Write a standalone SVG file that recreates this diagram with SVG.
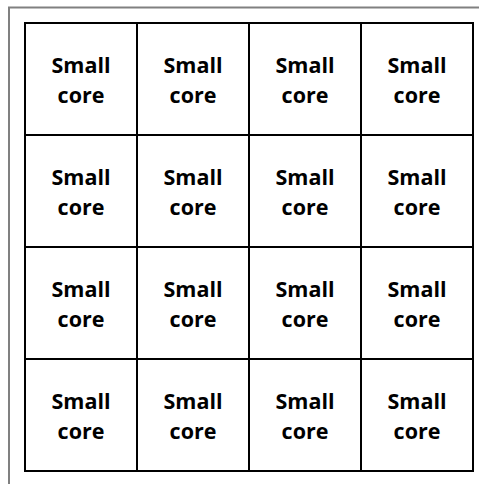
<svg xmlns="http://www.w3.org/2000/svg" width="479" height="484" viewBox="0 0 479 484">
<style>
.frame{fill:none;stroke:#808080;stroke-width:2}
.cell{fill:#fff;stroke:#000;stroke-width:2}
.t{font-family:"Open Sans","Liberation Sans",sans-serif;font-weight:bold;font-size:21.5px;fill:#000;text-anchor:middle}
</style>
<rect width="479" height="484" fill="#fff"/>
<path class="frame" d="M9,484 V7.5 H479"/>
<defs>
<g id="core">
<rect class="cell" x="0" y="0" width="112" height="112"/>
<text class="t" x="56" y="50">Small</text>
<text class="t" x="56" y="80">core</text>
</g>
</defs>
<g id="connectors"/>
<g id="c11" transform="translate(25,23)"><use href="#core"/></g>
<g id="c12" transform="translate(137,23)"><use href="#core"/></g>
<g id="c13" transform="translate(249,23)"><use href="#core"/></g>
<g id="c14" transform="translate(361,23)"><use href="#core"/></g>
<g id="c21" transform="translate(25,135)"><use href="#core"/></g>
<g id="c22" transform="translate(137,135)"><use href="#core"/></g>
<g id="c23" transform="translate(249,135)"><use href="#core"/></g>
<g id="c24" transform="translate(361,135)"><use href="#core"/></g>
<g id="c31" transform="translate(25,247)"><use href="#core"/></g>
<g id="c32" transform="translate(137,247)"><use href="#core"/></g>
<g id="c33" transform="translate(249,247)"><use href="#core"/></g>
<g id="c34" transform="translate(361,247)"><use href="#core"/></g>
<g id="c41" transform="translate(25,359)"><use href="#core"/></g>
<g id="c42" transform="translate(137,359)"><use href="#core"/></g>
<g id="c43" transform="translate(249,359)"><use href="#core"/></g>
<g id="c44" transform="translate(361,359)"><use href="#core"/></g>
</svg>
